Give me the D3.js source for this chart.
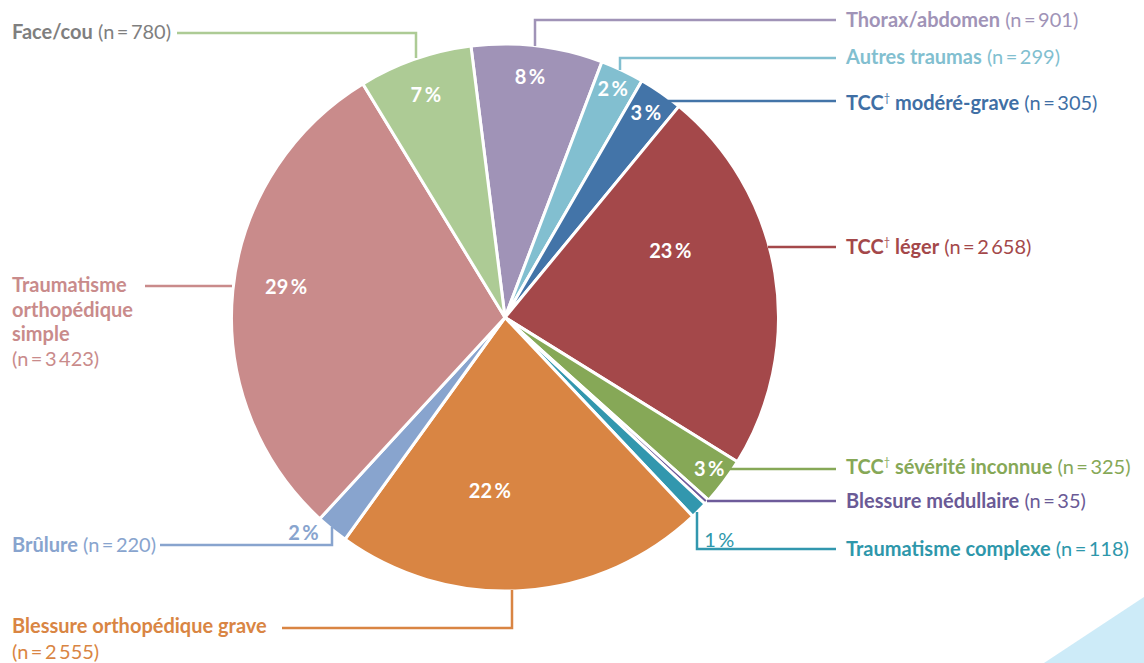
<!DOCTYPE html>
<html>
<head>
<meta charset="utf-8">
<script src="https://cdn.jsdelivr.net/npm/d3@7"></script>
<style>
  body { margin: 0; background: #fff; }
  svg { display: block; font-family: Lato, "Open Sans", sans-serif; }
</style>
</head>
<body>
<div id="chart"></div>
<script>
// categories, clockwise from the top
const categories = [
  'Thorax/abdomen', 'Autres traumas', 'TCC modéré-grave', 'TCC léger',
  'TCC sévérité inconnue', 'Blessure médullaire', 'Traumatisme complexe',
  'Blessure orthopédique grave', 'Brûlure', 'Traumatisme orthopédique simple', 'Face/cou'
];
const counts = [901, 299, 305, 2658, 325, 35, 118, 2555, 220, 3423, 780];
const pctLabels = ['8 %', '2 %', '3 %', '23 %', '3 %', '', '1 %', '22 %', '2 %', '29 %', '7 %'];
const sliceColors = ['#a093b7', '#82bfd0', '#4374a8', '#a4484a', '#86a857', '#6e5b9a',
  '#3297ae', '#d98543', '#88a4ce', '#c98b8b', '#adcb95'];
const textColors = ['#a093b7', '#82bfd0', '#3f6fa5', '#a4484a', '#86a857', '#6a5a96',
  '#2e97ab', '#d98543', '#88a4ce', '#c98b8b', '#7f7f7f'];

const width = 1144, height = 663;
const cx = 505, cy = 317.5, radius = 273.5;
const deg = Math.PI / 180;
const fontSize = 20;

const svg = d3.select('#chart').append('svg')
  .attr('width', width)
  .attr('height', height);

// decorative corner triangle
svg.append('path')
  .attr('d', `M${width},597 L${width},${height} L1044,${height} Z`)
  .attr('fill', '#cdebf8');

const data = categories.map((c, i) => ({ name: c, n: counts[i], pct: pctLabels[i], i }));

const pie = d3.pie()
  .value(d => d.n)
  .sort(null)
  .startAngle(-7.15 * deg)
  .endAngle((360 - 7.15) * deg);

const arc = d3.arc().innerRadius(0).outerRadius(radius);

const g = svg.append('g').attr('transform', `translate(${cx},${cy})`);

g.selectAll('path.slice')
  .data(pie(data))
  .enter()
  .append('path')
  .attr('class', 'slice')
  .attr('d', arc)
  .attr('fill', d => sliceColors[d.data.i])
  .attr('stroke', '#fff')
  .attr('stroke-width', 3)
  .attr('stroke-linejoin', 'miter');

// percent labels: polar position (degrees from top, distance from centre)
const pctPos = [
  [5.9, 242], [25.2, 253], [34.6, 248], [68.2, 178], [126.5, 254], null,
  [136.1, 309], [185, 174], [223.1, 295], [278, 221], [340.4, 236]
];
const pctStyle = [
  'in', 'in', 'in', 'in', 'in', null, 'out', 'in', 'outBold', 'in', 'in'
];

data.forEach((d, i) => {
  if (!pctPos[i]) return;
  const [a, r] = pctPos[i];
  const st = pctStyle[i];
  g.append('text')
    .attr('x', r * Math.sin(a * deg))
    .attr('y', -r * Math.cos(a * deg))
    .attr('dy', '0.35em')
    .attr('text-anchor', 'middle')
    .style('font-size', fontSize + 'px')
    .style('font-weight', st === 'out' ? 'normal' : 'bold')
    .attr('fill', st === 'in' ? '#fff' : textColors[i])
    .text(d.pct.replace(' ', '\u2009'));
});

// leader lines (page coordinates)
const leaders = [
  [[535, 46], [535, 20], [836, 20]],
  [[620, 70], [620, 58], [836, 58]],
  [[668, 101], [836, 101]],
  [[768, 247], [836, 247]],
  [[730, 469], [836, 469]],
  [[707, 501], [836, 501]],
  [[697, 512], [697, 549], [836, 549]],
  [[512, 590], [512, 628], [282, 628]],
  [[332, 527], [332, 545], [160, 545]],
  [[232, 286], [145, 286]],
  [[416, 58], [416, 33], [177, 33]]
];

const line = d3.line();
leaders.forEach((pts, i) => {
  svg.append('path')
    .attr('d', line(pts))
    .attr('fill', 'none')
    .attr('stroke', sliceColors[i])
    .attr('stroke-width', 2.5);
});

// category labels: lines of [text, bold]
const labelLines = [
  [[['Thorax/abdomen', 1], [' (n\u2009=\u2009901)', 0]]],
  [[['Autres traumas', 1], [' (n\u2009=\u2009299)', 0]]],
  [[['TCC', 1], ['†', 2], [' modéré-grave', 1], [' (n\u2009=\u2009305)', 0]]],
  [[['TCC', 1], ['†', 2], [' léger', 1], [' (n\u2009=\u20092\u2009658)', 0]]],
  [[['TCC', 1], ['†', 2], [' sévérité inconnue', 1], [' (n\u2009=\u2009325)', 0]]],
  [[['Blessure médullaire', 1], [' (n\u2009=\u200935)', 0]]],
  [[['Traumatisme complexe', 1], [' (n\u2009=\u2009118)', 0]]],
  [[['Blessure orthopédique grave', 1]], [['(n\u2009=\u20092\u2009555)', 0]]],
  [[['Brûlure', 1], [' (n\u2009=\u2009220)', 0]]],
  [[['Traumatisme', 1]], [['orthopédique', 1]], [['simple', 1]], [['(n\u2009=\u20093\u2009423)', 0]]],
  [[['Face/cou', 1], [' (n\u2009=\u2009780)', 0]]]
];
const labelAt = [
  [846, 20], [846, 57], [846, 103], [846, 247], [846, 467], [846, 501], [846, 549],
  [12, 626], [12, 545], [12, 285], [12, 32]
];
const lineGaps = [25, 25, 25, 25, 25, 25, 25, 26, 25, 24.5, 25];

labelLines.forEach((lines, i) => {
  const [x, y] = labelAt[i];
  lines.forEach((parts, j) => {
    const t = svg.append('text')
      .attr('x', x)
      .attr('y', y + j * lineGaps[i])
      .attr('dy', '0.35em')
      .attr('fill', textColors[i])
      .style('font-size', fontSize + 'px');
    parts.forEach(([s, w]) => {
      const ts = t.append('tspan').text(s);
      if (w === 1) ts.style('font-weight', 'bold');
      if (w === 2) ts.style('font-size', '11px').attr('baseline-shift', '70%');
    });
  });
});
</script>
</body>
</html>
